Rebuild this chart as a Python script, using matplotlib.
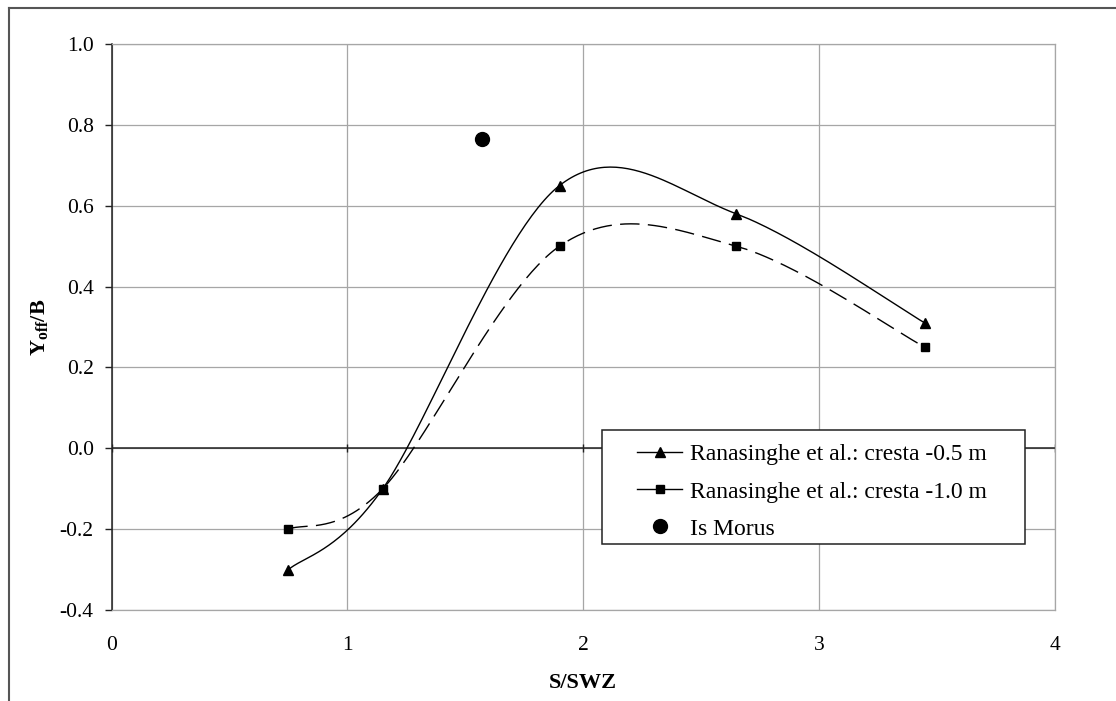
import numpy as np
import matplotlib
matplotlib.use("Agg")
import matplotlib.pyplot as plt
from matplotlib.lines import Line2D
from matplotlib.patches import Rectangle

plt.rcParams.update({"font.family": "Liberation Serif", "mathtext.fontset": "custom",
                     "mathtext.rm": "Liberation Serif", "mathtext.bf": "Liberation Serif:bold"})

# data
s_swz = [0.75, 1.15, 1.9, 2.65, 3.45]
yoff_05 = [-0.30, -0.10, 0.65, 0.58, 0.31]
yoff_10 = [-0.20, -0.10, 0.50, 0.50, 0.25]
morus_x = [1.57]
morus_y = [0.765]
labels = ["Ranasinghe et al.: cresta -0.5 m", "Ranasinghe et al.: cresta -1.0 m", "Is Morus"]
xticks = [0, 1, 2, 3, 4]
yticks = [-0.4, -0.2, 0.0, 0.2, 0.4, 0.6, 0.8, 1.0]

GRID = "#a6a6a6"

fig = plt.figure(figsize=(11.16, 7.01), dpi=100)
ax = fig.add_axes([0.1001, 0.1298, 0.8448, 0.8074])
ax.set_xlim(0, 4)
ax.set_ylim(-0.4, 1.0)


def smooth(xs, ys, n=60):
    # Excel-like smoothed line: Catmull-Rom bezier in screen space
    pts = ax.transData.transform(np.column_stack([xs, ys]))
    out = [pts[0]]
    for i in range(len(pts) - 1):
        p0 = pts[max(i - 1, 0)]
        p1, p2 = pts[i], pts[i + 1]
        p3 = pts[min(i + 2, len(pts) - 1)]
        b1 = p1 + (p2 - p0) / 6
        b2 = p2 - (p3 - p1) / 6
        t = np.linspace(0, 1, n)[1:, None]
        seg = (1 - t) ** 3 * p1 + 3 * (1 - t) ** 2 * t * b1 + 3 * (1 - t) * t ** 2 * b2 + t ** 3 * p2
        out.extend(seg)
    d = ax.transData.inverted().transform(np.array(out))
    return d[:, 0], d[:, 1]


ax.set_xticks(xticks)
ax.set_yticks(yticks)
ax.set_xticklabels([f"{v:d}" for v in xticks])
ax.set_yticklabels([f"{v:.1f}" for v in yticks])
ax.grid(True, color=GRID, lw=0.9)
ax.set_axisbelow(True)
for side in ["top", "right", "bottom"]:
    ax.spines[side].set_color(GRID)
    ax.spines[side].set_linewidth(0.9)
ax.spines["left"].set_color("#222222")
ax.spines["left"].set_linewidth(1.1)
ax.tick_params(axis="y", direction="out", length=5, width=1, color="#222222", pad=8, labelsize=15.5)
ax.tick_params(axis="x", length=0, pad=19, labelsize=15.5)
ax.axhline(0, color="#222222", lw=1.1, zorder=2)
ax.plot(xticks, np.zeros(len(xticks)), ls="none", marker="|", ms=6, mew=1, color="#222222", zorder=2)

sx, sy = smooth(s_swz, yoff_05)
ax.plot(sx, sy, color="black", lw=1.0, zorder=3)
ax.plot(s_swz, yoff_05, ls="none", marker="^", ms=6.5, color="black", zorder=4)
sx, sy = smooth(s_swz, yoff_10)
ax.plot(sx, sy, color="black", lw=1.0, dashes=(14, 6), zorder=3)
ax.plot(s_swz, yoff_10, ls="none", marker="s", ms=5.5, color="black", zorder=4)
ax.plot(morus_x, morus_y, ls="none", marker="o", ms=10, color="black", zorder=4)

ax.set_xlabel("S/SWZ", fontsize=16, fontweight="bold", labelpad=13)
ax.set_ylabel(r"$\mathbf{Y_{off}/B}$", fontsize=16, labelpad=7)

handles = [Line2D([], [], color="black", lw=1.0, marker="^", ms=6.5),
           Line2D([], [], color="black", lw=1.0, marker="s", ms=5.5),
           Line2D([], [], ls="none", color="black", marker="o", ms=10)]
ax.add_patch(Rectangle((0.520, 0.1166), 0.4487, 0.2014, transform=ax.transAxes,
                       facecolor="white", edgecolor="#222222", lw=1.1, zorder=5))
leg = ax.legend(handles, labels, loc="upper left", bbox_to_anchor=(0.550, 0.306),
                frameon=False, fontsize=17, handlelength=1.9, handletextpad=0.35,
                labelspacing=0.66, borderaxespad=0, borderpad=0.3)
leg.set_zorder(6)

# outer frame of the figure
fig.add_artist(Line2D([9 / 1116, 1], [1 - 8 / 701] * 2, transform=fig.transFigure, color="#555555", lw=1.5))
fig.add_artist(Line2D([9 / 1116] * 2, [0, 1 - 8 / 701], transform=fig.transFigure, color="#555555", lw=1.5))

fig.savefig("out.png", dpi=100)
